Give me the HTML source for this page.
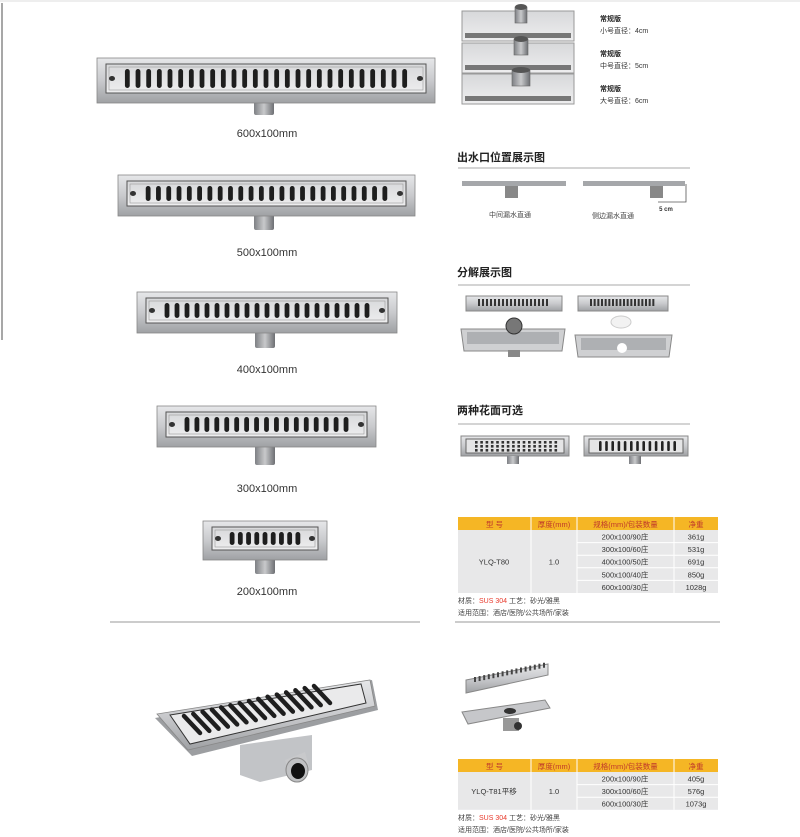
<!DOCTYPE html>
<html><head><meta charset="utf-8">
<style>
html,body{margin:0;padding:0;background:#fff;}
body{width:800px;height:837px;overflow:hidden;position:relative;font-family:"Liberation Sans","Noto Sans CJK SC",sans-serif;}
svg{position:absolute;left:0;top:0;}
.t{font-family:"Liberation Sans","Noto Sans CJK SC",sans-serif;}
</style></head><body>
<svg id="s" width="800" height="837" viewBox="0 0 800 837" xmlns="http://www.w3.org/2000/svg">
<defs>
<linearGradient id="metal" x1="0" y1="0" x2="0" y2="1">
<stop offset="0" stop-color="#e6e7e9"/><stop offset="0.5" stop-color="#c9cacd"/><stop offset="1" stop-color="#9fa1a4"/>
</linearGradient>
<linearGradient id="plate" x1="0" y1="0" x2="0" y2="1">
<stop offset="0" stop-color="#d7d8da"/><stop offset="1" stop-color="#eeeeef"/>
</linearGradient>
<linearGradient id="pipe" x1="0" y1="0" x2="1" y2="0">
<stop offset="0" stop-color="#7e8084"/><stop offset="0.5" stop-color="#c8c9cb"/><stop offset="1" stop-color="#6d6f73"/>
</linearGradient>
</defs>
<line x1="2" y1="3" x2="2" y2="340" stroke="#8a8a8a" stroke-width="1.5"/>
<line x1="0" y1="1" x2="800" y2="1" stroke="#eee" stroke-width="2"/>
<g id="g"></g>
</svg>
<script>
var g=document.getElementById('g');var h='';
function drain(x1,y1,x2,y2,px,py2,n,round){
 var w=x2-x1,ht=y2-y1;
 h+='<rect x="'+(px-10)+'" y="'+(y2-2)+'" width="20" height="'+(py2-y2+2)+'" rx="2" fill="url(#pipe)"/>';
 h+='<rect x="'+x1+'" y="'+y1+'" width="'+w+'" height="'+ht+'" fill="url(#metal)" stroke="#888" stroke-width="0.8"/>';
 var ix=x1+9,iy=y1+6,iw=w-18,ih=ht-16;
 h+='<rect x="'+ix+'" y="'+iy+'" width="'+iw+'" height="'+ih+'" fill="url(#plate)" stroke="#555" stroke-width="1"/>';
 h+='<rect x="'+(ix+3)+'" y="'+(iy+3)+'" width="'+(iw-6)+'" height="'+(ih-6)+'" fill="none" stroke="#999" stroke-width="0.6"/>';
 h+='<ellipse cx="'+(ix+6)+'" cy="'+(iy+ih/2)+'" rx="3" ry="2.5" fill="#333"/>';
 h+='<ellipse cx="'+(ix+iw-6)+'" cy="'+(iy+ih/2)+'" rx="3" ry="2.5" fill="#333"/>';
 var sx=ix+16,sw=iw-32,step=sw/n;
 for(var i=0;i<n;i++){var cx=sx+step*i+step/2;
  h+='<rect x="'+(cx-2.4)+'" y="'+(iy+5)+'" width="4.8" height="'+(ih-10)+'" rx="2.4" fill="#1e1e1e"/>';}
}
drain(97,58,435,103,264,115,27);
drain(118,175,415,216,264,230,24);
drain(137,292,397,333,265,348,21);
drain(157,406,376,447,265,465,17);
drain(203,521,327,560,265,574,9);
function lab(x,y,t){h+='<text x="'+x+'" y="'+y+'" font-size="11" fill="#333" text-anchor="middle" class="t">'+t+'</text>';}
lab(267,137,'600x100mm');lab(267,256,'500x100mm');lab(267,373,'400x100mm');lab(267,492,'300x100mm');lab(267,595,'200x100mm');
h+='<line x1="110" y1="622" x2="420" y2="622" stroke="#bbb" stroke-width="1.5"/>';
h+='<polygon points="240,745 312,735 312,770 260,782 240,775" fill="#c2c4c7"/>';
h+='<polygon points="285,760 305,752 310,770 290,778" fill="#c8c9cb"/>';
h+='<ellipse cx="297" cy="770" rx="11" ry="12" fill="#c0c1c3" stroke="#888"/>';
h+='<ellipse cx="298" cy="771" rx="7" ry="8" fill="#111"/>';
h+='<polygon points="155,718 372,680 378,710 192,756" fill="#9c9ea1"/>';
h+='<polygon points="157,714 370,680 375,706 188,750" fill="url(#metal)" stroke="#888" stroke-width="0.8"/>';
h+='<polygon points="170,715 361,684 366,703 190,744" fill="#eaeaeb" stroke="#333" stroke-width="1"/>';
for(var i=0;i<15;i++){var t=i/14;var x=200+t*130,y=733-t*30;
 h+='<line x1="'+x+'" y1="'+y+'" x2="'+(x-16)+'" y2="'+(y-17)+'" stroke="#1e1e1e" stroke-width="4.5" stroke-linecap="round"/>';}
function plate(y,rr){
 h+='<rect x="462" y="'+y+'" width="112" height="30" fill="url(#plate)" stroke="#999"/>';
 h+='<rect x="465" y="'+(y+22)+'" width="106" height="5" fill="#777"/>';
 h+='<rect x="'+(521-rr)+'" y="'+(y-4)+'" width="'+(rr*2)+'" height="16" fill="url(#pipe)" stroke="#666" stroke-width="0.6"/>';
 h+='<ellipse cx="521" cy="'+(y-4)+'" rx="'+rr+'" ry="3" fill="#555"/>';
}
plate(11,6);plate(43,7);plate(74,9);
function tx(x,y,t,s,c,b,a){h+='<text x="'+x+'" y="'+y+'" font-size="'+s+'" fill="'+(c||'#333')+'"'+(b?' font-weight="bold"':'')+(a?' text-anchor="'+a+'"':'')+' class="t">'+t+'</text>';}
tx(600,21,'常规版',7,'#222',1);tx(600,33,'小号直径：4cm',7);
tx(600,56,'常规版',7,'#222',1);tx(600,68,'中号直径：5cm',7);
tx(600,91,'常规版',7,'#222',1);tx(600,103,'大号直径：6cm',7);
tx(457,161,'出水口位置展示图',11,'#222',1);h+='<line x1="458" y1="168" x2="690" y2="168" stroke="#aaa"/>';
tx(457,276,'分解展示图',11,'#222',1);h+='<line x1="458" y1="285" x2="690" y2="285" stroke="#aaa"/>';
tx(457,414,'两种花面可选',11,'#222',1);h+='<line x1="458" y1="424" x2="690" y2="424" stroke="#aaa"/>';
h+='<rect x="462" y="181" width="104" height="5" fill="#a5a7aa"/><rect x="505" y="186" width="13" height="12" fill="#888"/>';
h+='<rect x="583" y="181" width="102" height="5" fill="#a5a7aa"/><rect x="650" y="186" width="13" height="12" fill="#888"/>';
h+='<polyline points="658,202 686,202 686,184" fill="none" stroke="#555" stroke-width="0.8"/>';
tx(666,211,'5 cm',6,'#333',1,'middle');
tx(510,217,'中间漏水直通',7,'#444',0,'middle');tx(613,218,'侧边漏水直通',7,'#444',0,'middle');
function cover(x,y,w,n){h+='<rect x="'+x+'" y="'+y+'" width="'+w+'" height="15" fill="url(#metal)" stroke="#888"/>';
 for(var i=0;i<n;i++){h+='<rect x="'+(x+12+i*(w-24)/n)+'" y="'+(y+3)+'" width="2" height="7" fill="#333"/>';}}
function tray(x,y,w){h+='<polygon points="'+x+','+y+' '+(x+w)+','+y+' '+(x+w-3)+','+(y+22)+' '+(x+3)+','+(y+22)+'" fill="#cfd0d2" stroke="#888"/>';
 h+='<rect x="'+(x+6)+'" y="'+(y+3)+'" width="'+(w-12)+'" height="12" fill="#aeb0b3"/>';}
cover(466,296,96,18);tray(461,329,104);
h+='<circle cx="514" cy="326" r="8" fill="#777" stroke="#333"/>';h+='<rect x="508" y="350" width="12" height="7" fill="#888"/>';
cover(578,296,90,18);tray(575,335,97);
h+='<ellipse cx="621" cy="322" rx="10" ry="6" fill="#f2f2f2" stroke="#ccc"/>';h+='<circle cx="622" cy="348" r="5" fill="#fff"/>';
h+='<rect x="461" y="436" width="108" height="20" fill="url(#metal)" stroke="#888"/><rect x="466" y="439" width="98" height="14" fill="#e5e5e6" stroke="#666"/>';
for(var r=0;r<3;r++)for(var c=0;c<16;c++)h+='<rect x="'+(475+c*5.3)+'" y="'+(441+r*4)+'" width="2.6" height="2.6" fill="#333"/>';
h+='<rect x="507" y="456" width="12" height="8" fill="url(#pipe)"/>';
h+='<rect x="584" y="436" width="104" height="20" fill="url(#metal)" stroke="#888"/><rect x="589" y="439" width="94" height="14" fill="#e5e5e6" stroke="#666"/>';
for(var c=0;c<13;c++)h+='<rect x="'+(599+c*6.2)+'" y="441" width="2.6" height="10" rx="1.3" fill="#222"/>';
h+='<rect x="629" y="456" width="12" height="8" fill="url(#pipe)"/>';
function table(y0,rows,model,wts){
 var cols=[458,531,577,674,718];var hh=13,rh=12.6;
 h+='<rect x="458" y="'+y0+'" width="260" height="'+hh+'" fill="#f5b625"/>';
 var hd=['型 号','厚度(mm)','规格(mm)/包装数量','净重'];
 for(var i=0;i<4;i++)tx((cols[i]+cols[i+1])/2,y0+10,hd[i],7.5,'#c0392b',0,'middle');
 var bh=rh*rows.length;
 h+='<rect x="458" y="'+(y0+hh)+'" width="260" height="'+bh+'" fill="#e8e8e9"/>';
 for(var i=1;i<4;i++)h+='<line x1="'+cols[i]+'" y1="'+y0+'" x2="'+cols[i]+'" y2="'+(y0+hh+bh)+'" stroke="#fff" stroke-width="1"/>';
 for(var r=0;r<rows.length;r++){var yy=y0+hh+rh*r;
  if(r>0)h+='<line x1="577" y1="'+yy+'" x2="718" y2="'+yy+'" stroke="#fff"/>';
  tx(625,yy+9.5,rows[r],7.5,'#333',0,'middle');tx(696,yy+9.5,wts[r],7.5,'#333',0,'middle');}
 tx(494,y0+hh+bh/2+3,model,7.5,'#333',0,'middle');tx(554,y0+hh+bh/2+3,'1.0',7.5,'#333',0,'middle');
 var ty=y0+hh+bh;
 h+='<text x="458" y="'+(ty+10)+'" font-size="7" fill="#444" class="t">材质：<tspan fill="#e8392b">SUS 304</tspan>   工艺：砂光/雅黑</text>';
 tx(458,ty+22,'适用范围：酒店/医院/公共场所/家装',7,'#444');
}
table(517,['200x100/90庄','300x100/60庄','400x100/50庄','500x100/40庄','600x100/30庄'],'YLQ-T80',['361g','531g','691g','850g','1028g']);
h+='<line x1="455" y1="622" x2="720" y2="622" stroke="#bbb" stroke-width="1.5"/>';
table(759,['200x100/90庄','300x100/60庄','600x100/30庄'],'YLQ-T81平移',['405g','576g','1073g']);
h+='<polygon points="466,680 548,664 548,675 466,693" fill="url(#metal)" stroke="#888"/>';
for(var i=0;i<16;i++)h+='<rect x="'+(474+i*4.6)+'" y="'+(677-i*0.95)+'" width="2" height="5" fill="#444"/>';
h+='<polygon points="462,712 545,700 550,708 468,724" fill="#c6c7ca" stroke="#888"/>';
h+='<ellipse cx="510" cy="711" rx="6" ry="3" fill="#333"/>';
h+='<rect x="503" y="718" width="16" height="13" fill="#999"/><circle cx="518" cy="726" r="4" fill="#333"/>';
g.innerHTML=h;
</script>
</body></html>
